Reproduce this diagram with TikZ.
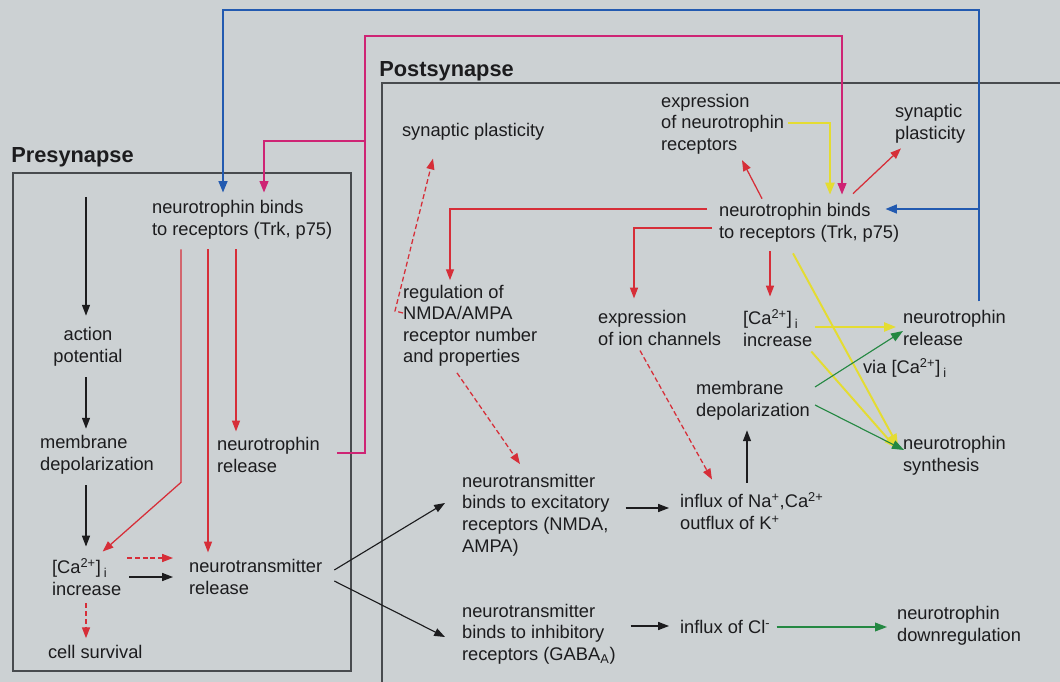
\documentclass[tikz,border=0pt]{standalone}
\usepackage{fontspec}
\setmainfont{Liberation Sans}
\usepackage{xcolor}
\usepackage{tikz}
\usetikzlibrary{arrows.meta,calc}

\definecolor{paper}{RGB}{204,209,211}
\definecolor{frame}{RGB}{72,75,78}
\definecolor{ink}{RGB}{28,28,30}
\definecolor{tred}{RGB}{214,46,56}
\definecolor{tpink}{RGB}{206,36,116}
\definecolor{tblue}{RGB}{34,90,176}
\definecolor{tyellow}{RGB}{228,220,50}
\definecolor{tgreen}{RGB}{36,136,66}

\newcommand{\cai}{[Ca\textsuperscript{2+}]\,\textsubscript{i}}

\begin{document}
\begin{tikzpicture}[
  x=0.025cm, y=-0.025cm,
  font=\fontsize{13}{15.3}\selectfont,
  lbl/.style={align=left, inner sep=2pt, anchor=west, text=ink},
  heading/.style={font=\fontsize{15.5}{18}\selectfont\bfseries, inner sep=0pt,
    anchor=west, text=ink},
  blkarr/.style={-{Triangle[length=2.7mm,width=2mm]}, line width=0.8pt, ink},
  redarr/.style={-{Triangle[length=2.7mm,width=2mm]}, line width=0.9pt, tred},
  reddash/.style={redarr, dash pattern=on 3.5pt off 2pt},
  pinkarr/.style={-{Triangle[length=2.9mm,width=2.2mm]}, line width=1.3pt, tpink},
  bluearr/.style={-{Triangle[length=2.9mm,width=2.2mm]}, line width=1.5pt, tblue},
  yelarr/.style={-{Triangle[length=3mm,width=2.3mm]}, line width=1.4pt, tyellow},
  grnarr/.style={-{Triangle[length=3mm,width=2.2mm]}, line width=0.8pt, tgreen},
]
\useasboundingbox (0,0) rectangle (1060,682);
\fill[paper] (0,0) rectangle (1060,682);

% compartments
\draw[frame, line width=0.8pt] (13,173) rectangle (351,671);
\draw[frame, line width=0.8pt] (1060,83) -- (382,83) -- (382,682);
\node[heading] (preTitle) at (11,157) {Presynapse};
\node[heading] (postTitle) at (379,71) {Postsynapse};

% presynapse
\coordinate (preTop) at (86,197);
\node[lbl, align=center, anchor=center] (apot) at (88,347) {action\\potential};
\node[lbl] (mdepPre) at (37,455) {membrane\\depolarization};
\node[lbl] (caPre) at (49,577) {\cai\\increase};
\node[lbl] (survival) at (45,652) {cell survival};
\node[lbl] (ntbPre) at (149,220) {neurotrophin binds\\to receptors (Trk, p75)};
\node[lbl] (ntrelPre) at (214,455) {neurotrophin\\release};
\node[lbl] (ntxrel) at (186,577) {neurotransmitter\\release};

% postsynapse
\node[lbl] (plastL) at (399,132) {synaptic plasticity};
\node[lbl] (regNMDA) at (400,326) {regulation of\\NMDA/AMPA\\receptor number\\and properties};
\node[lbl] (exc) at (459,515) {neurotransmitter\\binds to excitatory\\receptors (NMDA,\\AMPA)};
\node[lbl] (inh) at (459,634) {neurotransmitter\\binds to inhibitory\\receptors (GABA\textsubscript{A})};
\node[lbl] (influxNa) at (677,511) {influx of Na\textsuperscript{+},Ca\textsuperscript{2+}\\outflux of K\textsuperscript{+}};
\node[lbl] (influxCl) at (677,627) {influx of Cl\textsuperscript{-}};
\node[lbl] (downreg) at (894,626) {neurotrophin\\downregulation};
\node[lbl] (mdepPost) at (693,401) {membrane\\depolarization};
\node[lbl] (ionexp) at (595,328) {expression\\of ion channels};
\node[lbl] (caPost) at (740,328) {\cai\\increase};
\node[lbl] (ntbPost) at (716,223) {neurotrophin binds\\to receptors (Trk, p75)};
\node[lbl] (recexp) at (658,124) {expression\\of neurotrophin\\receptors};
\node[lbl] (plastR) at (892,124) {synaptic\\plasticity};
\node[lbl] (ntrelPost) at (900,328) {neurotrophin\\release};
\node[lbl] (via) at (860,368) {via \cai};
\node[lbl] (synth) at (900,456) {neurotrophin\\synthesis};

% presynaptic chain
\draw[blkarr] (preTop) -- ($(apot.north)+(-2,-9)$);
\draw[blkarr] ($(apot.south)+(-2,8)$) -- ($(mdepPre.north west)+(49,-4)$);
\draw[blkarr] ($(mdepPre.south west)+(49,8)$) -- ($(caPre.north west)+(37,-9)$);
\draw[reddash] ($(caPre.south west)+(37,5)$) -- ($(survival.north west)+(41,-4)$);
\draw[reddash] ($(caPre.east)+(3,-19)$) -- ($(caPre.east -| ntxrel.west)+(-13,-19)$);
\draw[blkarr] ($(caPre.east)+(5,0)$) -- ($(caPre.east -| ntxrel.west)+(-13,0)$);
\draw[redarr] ($(ntbPre.south west)+(32,7)$) -- ++(0,233) -- ($(caPre.north)+(16,-4)$);
\draw[redarr] ($(ntbPre.south west)+(59,7)$) -- ($(ntxrel.north west)+(22,-4)$);
\draw[redarr] ($(ntbPre.south west)+(87,7)$) -- ($(ntrelPre.north west)+(22,-3)$);

% transmitter release to postsynapse
\draw[blkarr] ($(ntxrel.east)+(9,-7)$) -- ($(exc.west)+(-14,-12)$);
\draw[blkarr] ($(ntxrel.east)+(9,4)$) -- ($(inh.west)+(-14,3)$);
\draw[blkarr] ($(exc.east)+(13,-7)$) -- ($(exc.east -| influxNa.west)+(-8,-7)$);
\draw[blkarr] ($(inh.east)+(12,-8)$) -- ($(inh.east -| influxCl.west)+(-8,-8)$);
\draw[grnarr] ($(influxCl.east)+(3,0)$) -- ($(influxCl.east -| downreg.west)+(-7,0)$);
\coordinate (upStart) at ($(influxNa.north west)+(70,-7)$);
\draw[blkarr] (upStart) -- ($(upStart |- mdepPost.south)+(0,7)$);

% neurotrophin exchange
\coordinate (pinkTop) at (365,36);
\coordinate (pinkJ) at (365,141);
\draw[pinkarr] ($(ntrelPre.east)+(14,-2)$) -| (pinkTop) -| ($(ntbPost.north west)+(126,-6)$);
\draw[pinkarr] (pinkJ) -| ($(ntbPre.north west)+(115,-5)$);
\coordinate (blueTop) at (979,10);
\coordinate (blueJ) at (979,209);
\draw[bluearr] ($(ntrelPost.north west)+(79,-6)$) -- (blueTop) -| ($(ntbPre.north west)+(74,-5)$);
\draw[bluearr] (blueJ) -- ($(blueJ -| ntbPost.north east)+(-17,0)$);

% postsynaptic effects
\draw[redarr] ($(ntbPost.west)+(-9,-14)$) -| ($(regNMDA.north west)+(50,-2)$);
\draw[redarr] ($(ntbPost.west)+(-4,5)$) -| ($(ionexp.north west)+(39,-9)$);
\draw[redarr] ($(ntbPost.south west)+(54,6)$) -- ($(caPost.north west)+(30,-10)$);
\draw[redarr] ($(ntbPost.north west)+(46,-2)$) -- ($(recexp.south west)+(84,3)$);
\draw[redarr] ($(ntbPost.north west)+(137,-7)$) -- ($(plastR.south west)+(9,2)$);
\draw[reddash] ($(regNMDA.west)+(3,-13)$) -- ++(-8,-2) -- ($(plastL.south west)+(34,15)$);
\draw[reddash] ($(regNMDA.south west)+(57,3)$) -- ($(exc.north west)+(61,-7)$);
\draw[reddash] ($(ionexp.south west)+(45,2)$) -- ($(influxNa.north west)+(35,-10)$);

\draw[yelarr] ($(recexp.east)+(1,-1)$) -| ($(ntbPost.north west)+(114,-6)$);
\draw[yelarr] ($(caPost.east)+(0,-1)$) -- ($(caPost.east -| ntrelPost.west)+(-4,-1)$);
\draw[yelarr] ($(ntbPost.south west)+(77,8)$) -- ($(synth.west)+(-2,-10)$);
\draw[yelarr] ($(caPost.south east)+(-4,2)$) -- ($(synth.west)+(-4,-8)$);
\draw[grnarr] ($(mdepPost.east)+(2,-14)$) -- ($(ntrelPost.west)+(3,3)$);
\draw[grnarr] ($(mdepPost.east)+(2,4)$) -- ($(synth.west)+(4,-6)$);
\end{tikzpicture}
\end{document}
